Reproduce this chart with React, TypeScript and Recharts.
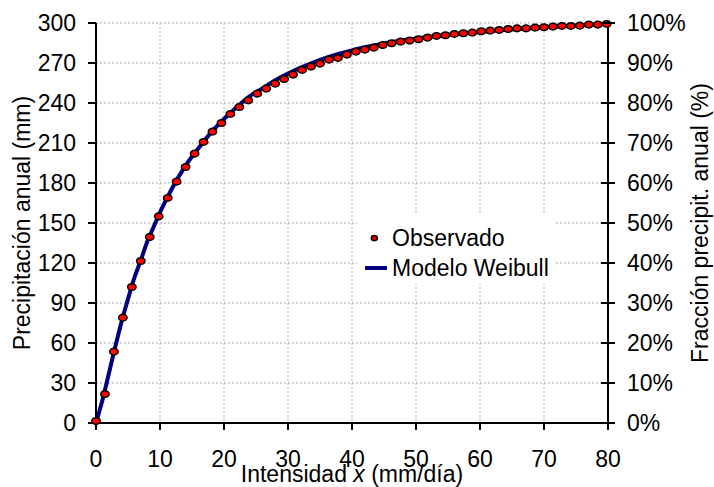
import { CartesianGrid, ComposedChart, Legend, Line, Scatter, XAxis, YAxis } from "recharts";

// observed points (mm/day vs cumulative annual mm)
const obsX = [
  0, 1.4, 2.8, 4.2, 5.6, 7, 8.4, 9.8, 11.2, 12.6, 14, 15.4, 16.8, 18.2, 19.6, 21, 22.4, 23.8, 25.2, 26.6,
  28, 29.4, 30.8, 32.2, 33.6, 35, 36.4, 37.8, 39.2, 40.6, 42, 43.4, 44.8, 46.2, 47.6, 49, 50.4, 51.8, 53.2,
  54.6, 56, 57.4, 58.8, 60.2, 61.6, 63, 64.4, 65.8, 67.2, 68.6, 70, 71.4, 72.8, 74.2, 75.6, 77, 78.4, 79.8,
];
const obsY = [
  1.5, 21.7, 53.5, 79, 102, 121.5, 139.5, 155, 168.8, 181, 192, 202, 210.8, 218.5, 225, 231.8, 237, 242, 247,
  250.8, 254.5, 258, 261.3, 264.8, 267.3, 269.5, 272.5, 273.8, 276.3, 278.5, 280, 281.5, 283.5, 284.8, 286,
  286.8, 287.8, 289, 290.3, 290.8, 291.8, 292.3, 292.8, 293.8, 294.3, 294.8, 295.5, 296, 296, 296.5, 296.8,
  297.3, 297.8, 297.8, 298, 298.8, 298.8, 299.3,
];

// Weibull model curve
const modelX = [0, 1, 2, 3, 4, 5, 6, 7, 8, 9, 10, 12, 14, 16, 18, 20, 22, 24, 26, 28, 30, 32, 34, 36, 38, 40, 42, 44, 46, 48, 50, 55, 60, 65, 70, 75, 80];
const modelY = [
  0, 17, 37, 57, 76, 93, 109, 122, 136, 147, 158, 177, 193, 206, 218, 228, 237, 245, 251, 257, 262, 266.5, 270.5,
  274, 277, 279.5, 281.8, 283.8, 285.5, 287, 288.3, 291, 293.3, 295.2, 296.8, 298.2, 299.3,
];

const xTicks = [0, 10, 20, 30, 40, 50, 60, 70, 80];
const mmTicks = [0, 30, 60, 90, 120, 150, 180, 210, 240, 270, 300];
const pctLabels = ["0%", "10%", "20%", "30%", "40%", "50%", "60%", "70%", "80%", "90%", "100%"];

const observed = obsX.map((x, i) => ({ x, y: obsY[i] }));
const model = modelX.map((x, i) => ({ x, y: modelY[i] }));

const FONT = "'Liberation Sans', Arial, sans-serif";
const FS = 23;

function Dot(props: any) {
  const { cx, cy } = props;
  return <ellipse cx={cx} cy={cy} rx={4.2} ry={3.3} fill="#ff0000" stroke="#000" strokeWidth={1.5} />;
}

// right axis: tick mark crosses the axis line, label is the share of the annual total
function PctTick(props: any) {
  const { x, y, payload } = props;
  const label = pctLabels[mmTicks.indexOf(payload.value)];
  return (
    <g>
      <line x1={x - 26} x2={x - 12} y1={y} y2={y} stroke="#000" strokeWidth={2} />
      <text x={x} y={y} dy="0.355em" fontSize={FS} fill="#000" fontFamily={FONT}>
        {label}
      </text>
    </g>
  );
}

function XTitle(props: any) {
  const vb = props.viewBox || { x: 96, y: 423, width: 512 };
  return (
    <text x={vb.x + vb.width / 2} y={482} textAnchor="middle" fontSize={FS} fill="#000" fontFamily={FONT}>
      Intensidad <tspan fontStyle="italic">x</tspan> (mm/día)
    </text>
  );
}

function LeftTitle(props: any) {
  const vb = props.viewBox || { x: 36, y: 23, height: 400 };
  const cx = vb.x - 6;
  const cy = vb.y + vb.height / 2;
  return (
    <text x={cx} y={cy} transform={`rotate(-90 ${cx} ${cy})`} textAnchor="middle" fontSize={FS} fill="#000" fontFamily={FONT}>
      Precipitación anual (mm)
    </text>
  );
}

function RightTitle(props: any) {
  const vb = props.viewBox || { x: 608, y: 23, height: 400 };
  const cx = vb.x + 100;
  const cy = vb.y + vb.height / 2;
  return (
    <text x={cx} y={cy} transform={`rotate(-90 ${cx} ${cy})`} textAnchor="middle" fontSize={FS} fill="#000" fontFamily={FONT}>
      Fracción precipit. anual (%)
    </text>
  );
}

function LegendBox() {
  const row = { height: 30, lineHeight: "30px", position: "relative" as const, paddingLeft: 35, whiteSpace: "nowrap" as const };
  return (
    <div style={{ background: "#fff", width: 198, height: 70, paddingTop: 9, boxSizing: "border-box", fontFamily: FONT, fontSize: FS, color: "#000" }}>
      <div style={row}>
        <svg width={30} height={30} style={{ position: "absolute", left: 0, top: 0 }}>
          <ellipse cx={17.3} cy={15} rx={3} ry={2.6} fill="#ff0000" stroke="#000" strokeWidth={1.5} />
        </svg>
        Observado
      </div>
      <div style={row}>
        <svg width={32} height={30} style={{ position: "absolute", left: 0, top: 0 }}>
          <line x1={8} x2={30} y1={15} y2={15} stroke="#000080" strokeWidth={4} />
        </svg>
        Modelo Weibull
      </div>
    </div>
  );
}

export default function App() {
  return (
    <div style={{ position: "absolute", left: 0, top: 0 }}>
      <ComposedChart width={714} height={487} margin={{ top: 23, right: 46, bottom: 24, left: 36 }} style={{ fontFamily: FONT }}>
        <CartesianGrid stroke="#c4c4c4" strokeDasharray="2 2" strokeWidth={1.3} />
        <XAxis
          dataKey="x"
          type="number"
          domain={[0, 80]}
          ticks={xTicks}
          height={40}
          stroke="#000"
          strokeWidth={2}
          tickSize={7}
          tickMargin={21}
          tick={{ fill: "#000", fontSize: FS }}
          label={<XTitle />}
        />
        <YAxis
          type="number"
          domain={[0, 300]}
          ticks={mmTicks}
          width={60}
          stroke="#000"
          strokeWidth={2}
          tickSize={8}
          tickMargin={12}
          tick={{ fill: "#000", fontSize: FS }}
          label={<LeftTitle />}
        />
        <YAxis
          yAxisId="pct"
          orientation="right"
          type="number"
          domain={[0, 300]}
          ticks={mmTicks}
          width={60}
          stroke="#000"
          strokeWidth={2}
          tickSize={7}
          tickMargin={12}
          tickLine={false}
          tick={<PctTick />}
          label={<RightTitle />}
        />
        <Line data={model} dataKey="y" type="monotone" stroke="#000080" strokeWidth={4} dot={false} isAnimationActive={false} />
        <Scatter yAxisId="pct" data={observed} dataKey="y" shape={<Dot />} isAnimationActive={false} />
        <Legend
          layout="vertical"
          align="center"
          verticalAlign="middle"
          wrapperStyle={{ left: 357, top: 214, width: 198, height: 70 }}
          content={<LegendBox />}
        />
      </ComposedChart>
    </div>
  );
}
